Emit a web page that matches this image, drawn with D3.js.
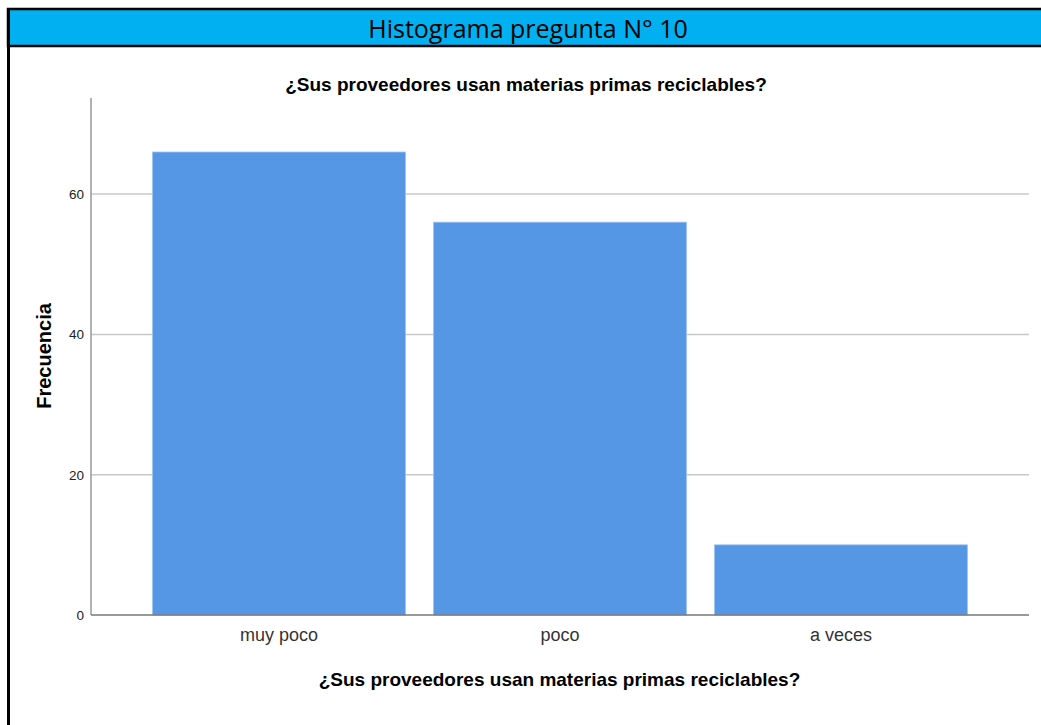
<!DOCTYPE html>
<html><head><meta charset="utf-8">
<script src="https://cdn.jsdelivr.net/npm/d3@7"></script>
<style>body{margin:0;background:#fff;}svg{display:block;}</style>
</head><body>
<script>
const categories = ["muy poco", "poco", "a veces"];
const frequencies = [66, 56, 10];
const yTicks = [0, 20, 40, 60];
const headerTitle = "Histograma pregunta N° 10";
const chartTitle = "¿Sus proveedores usan materias primas reciclables?";
const xTitle = "¿Sus proveedores usan materias primas reciclables?";
const yTitle = "Frecuencia";

(function () {
const W = 1041, H = 725;
const svg = d3.select("body").append("svg").attr("width", W).attr("height", H);
const sans = "Liberation Sans, Arial, sans-serif";

// header frame
svg.append("rect").attr("x", 8).attr("y", 9).attr("width", W).attr("height", 37)
  .attr("fill", "#00B0F0").attr("stroke", "#000").attr("stroke-width", 2.5);
svg.append("line").attr("x1", 8.5).attr("x2", 8.5).attr("y1", 8).attr("y2", H)
  .attr("stroke", "#000").attr("stroke-width", 3);
svg.append("text").attr("x", 528).attr("y", 38).attr("text-anchor", "middle")
  .attr("font-family", "Open Sans, sans-serif").attr("font-size", 25).attr("fill", "#000")
  .text(headerTitle);

const pl = 91, pr = 1029, pt = 98, pb = 615;
const y = d3.scaleLinear().domain([0, 73.7]).range([pb, pt]);
const x = d3.scaleBand().domain(categories).range([pl, pr]).paddingInner(0.1).paddingOuter(0.219);

// grid
svg.append("g").selectAll("line").data(yTicks.filter(d => d > 0)).join("line")
  .attr("x1", pl).attr("x2", pr).attr("y1", d => y(d)).attr("y2", d => y(d))
  .attr("stroke", "#c8c8c8").attr("stroke-width", 1.5);

// bars
svg.append("g").selectAll("rect").data(frequencies).join("rect")
  .attr("x", (d, i) => x(categories[i])).attr("width", x.bandwidth())
  .attr("y", d => y(d)).attr("height", d => pb - y(d))
  .attr("fill", "#5596E5").attr("stroke", "#9cc2f0").attr("stroke-width", 0.8);

// y axis
const yAxis = svg.append("g").attr("transform", `translate(${pl},0)`)
  .call(d3.axisLeft(y).tickValues(yTicks).tickSize(0).tickPadding(7));
yAxis.select(".domain").attr("stroke", "#999").attr("stroke-width", 1.5).attr("d", `M0,${pt}V${pb}`);
yAxis.selectAll("text").attr("font-family", sans).attr("font-size", 13.5).attr("fill", "#222");

// x axis
const xAxis = svg.append("g").attr("transform", `translate(0,${pb})`)
  .call(d3.axisBottom(x).tickSize(0).tickPadding(13));
xAxis.select(".domain").attr("stroke", "#777").attr("stroke-width", 1.5).attr("d", `M${pl},0H${pr}`);
xAxis.selectAll("text").attr("font-family", sans).attr("font-size", 18).attr("fill", "#333");

// titles
svg.append("text").attr("x", 526).attr("y", 91).attr("text-anchor", "middle")
  .attr("font-family", sans).attr("font-weight", "bold").attr("font-size", 19)
  .text(chartTitle);
svg.append("text").attr("x", 559.5).attr("y", 686).attr("text-anchor", "middle")
  .attr("font-family", sans).attr("font-weight", "bold").attr("font-size", 19)
  .text(xTitle);
svg.append("text").attr("transform", "translate(51,356) rotate(-90)").attr("text-anchor", "middle")
  .attr("font-family", sans).attr("font-weight", "bold").attr("font-size", 20)
  .text(yTitle);
})();
</script>
</body></html>
